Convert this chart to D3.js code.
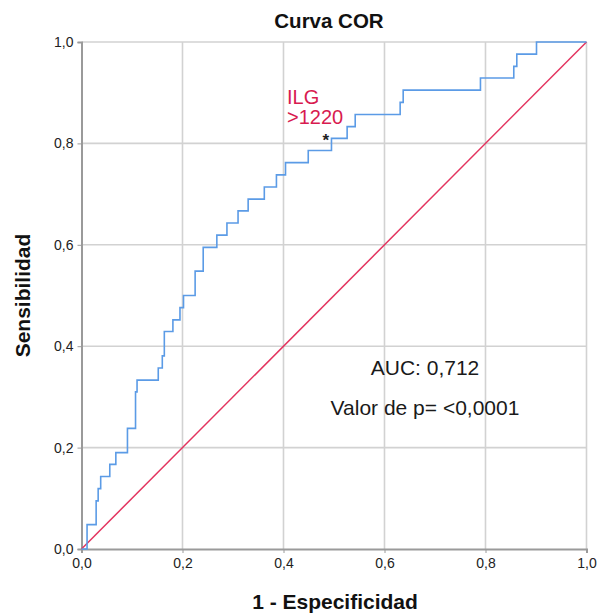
<!DOCTYPE html>
<html>
<head>
<meta charset="utf-8">
<script src="https://cdn.jsdelivr.net/npm/d3@7"></script>
<style>
  html, body { margin: 0; padding: 0; background: #fff; }
  svg { display: block; }
  text { font-family: "Liberation Sans", Arial, Helvetica, sans-serif; }
</style>
</head>
<body>
<svg id="chart" width="600" height="615"></svg>
<script>
// ---- Data ----
const fprSteps = [0.011, 0.029, 0.033, 0.038, 0.056, 0.068, 0.091, 0.107, 0.110, 0.152,
                  0.160, 0.164, 0.181, 0.195, 0.202, 0.225, 0.241, 0.268, 0.288, 0.310,
                  0.330, 0.362, 0.386, 0.404, 0.449, 0.495, 0.526, 0.542, 0.631, 0.637,
                  0.790, 0.856, 0.862, 0.901];
const tprSteps = [0.048, 0.095, 0.119, 0.143, 0.167, 0.190, 0.238, 0.310, 0.333, 0.357,
                  0.381, 0.429, 0.452, 0.476, 0.500, 0.548, 0.595, 0.619, 0.643, 0.667,
                  0.690, 0.714, 0.738, 0.762, 0.786, 0.810, 0.833, 0.857, 0.881, 0.905,
                  0.929, 0.952, 0.976, 1.000];
const referenceLine = [[0, 0], [1, 1]];
const tickValues = [0, 0.2, 0.4, 0.6, 0.8, 1.0];
const cutoffPoint = { fpr: 0.482, tpr: 0.813, label: ["ILG", ">1220"] };
const statsText = ["AUC: 0,712", "Valor de p= <0,0001"];
const titleText = "Curva COR";
const xLabel = "1 - Especificidad";
const yLabel = "Sensibilidad";

// ---- Layout ----
const svg = d3.select("#chart");
const mLeft = 81.5, mRight = 586.5, mTop = 42, mBottom = 549;
const x = d3.scaleLinear().domain([0, 1]).range([mLeft, mRight]);
const y = d3.scaleLinear().domain([0, 1]).range([mBottom, mTop]);

const locale = d3.formatLocale({ decimal: ",", thousands: ".", grouping: [3], currency: ["", "€"] });
const fmt = locale.format(".1f");

// gridlines
const grid = svg.append("g");
grid.selectAll("line.v").data(tickValues.slice(1)).join("line")
  .attr("x1", d => x(d)).attr("x2", d => x(d))
  .attr("y1", y(0)).attr("y2", y(1))
  .attr("stroke", "#d2d2d2").attr("stroke-width", 1.6);
grid.selectAll("line.h").data(tickValues.slice(1)).join("line")
  .attr("x1", x(0)).attr("x2", x(1))
  .attr("y1", d => y(d)).attr("y2", d => y(d))
  .attr("stroke", "#d2d2d2").attr("stroke-width", 1.6);

// axes
const xAxis = svg.append("g").attr("transform", `translate(0,${mBottom})`)
  .call(d3.axisBottom(x).tickValues(tickValues).tickFormat(fmt).tickSize(4).tickPadding(5));
const yAxis = svg.append("g").attr("transform", `translate(${mLeft},0)`)
  .call(d3.axisLeft(y).tickValues(tickValues).tickFormat(fmt).tickSize(4).tickPadding(4));
[xAxis, yAxis].forEach(a => {
  a.select(".domain").attr("stroke", "#9a9a9a").attr("stroke-width", 2);
  a.selectAll(".tick line").attr("stroke", "#9a9a9a").attr("stroke-width", 1);
  a.selectAll(".tick text").attr("font-size", 14).attr("fill", "#222")
    .attr("font-family", "'Liberation Sans', Arial, sans-serif");
});

// reference diagonal
svg.append("path")
  .attr("d", d3.line().x(d => x(d[0])).y(d => y(d[1]))(referenceLine))
  .attr("stroke", "#e3345f").attr("stroke-width", 1.5).attr("fill", "none");

// ROC curve
const rocPoints = [[0, 0]].concat(fprSteps.map((f, i) => [f, tprSteps[i]])).concat([[1, 1]]);
svg.append("path")
  .attr("d", d3.line().x(d => x(d[0])).y(d => y(d[1])).curve(d3.curveStepAfter)(rocPoints))
  .attr("stroke", "#5b9be6").attr("stroke-width", 1.6).attr("fill", "none");

// cutoff marker
svg.append("text")
  .attr("x", x(cutoffPoint.fpr) + 1).attr("y", y(cutoffPoint.tpr) + 9)
  .attr("text-anchor", "middle").attr("font-size", 17).attr("font-weight", "bold")
  .attr("fill", "#222").text("*");
svg.append("text")
  .attr("x", 287).attr("y", 104)
  .attr("font-size", 20).attr("fill", "#d81b50")
  .selectAll("tspan").data(cutoffPoint.label).join("tspan")
  .attr("x", 287).attr("dy", (d, i) => i === 0 ? 0 : 20).text(d => d);

// stats text
svg.append("g").selectAll("text").data(statsText).join("text")
  .attr("x", 425).attr("y", (d, i) => 375 + i * 40)
  .attr("text-anchor", "middle").attr("font-size", 21).attr("fill", "#1a1a1a")
  .text(d => d);

// title and axis labels
svg.append("text").attr("x", 329).attr("y", 28)
  .attr("text-anchor", "middle").attr("font-size", 20.5).attr("font-weight", "bold")
  .attr("fill", "#111").text(titleText);
svg.append("text").attr("x", 335).attr("y", 609)
  .attr("text-anchor", "middle").attr("font-size", 21).attr("font-weight", "bold")
  .attr("fill", "#111").text(xLabel);
svg.append("text")
  .attr("transform", `translate(30,${(mTop + mBottom) / 2}) rotate(-90)`)
  .attr("text-anchor", "middle").attr("font-size", 21).attr("font-weight", "bold")
  .attr("fill", "#111").text(yLabel);
</script>
</body>
</html>
